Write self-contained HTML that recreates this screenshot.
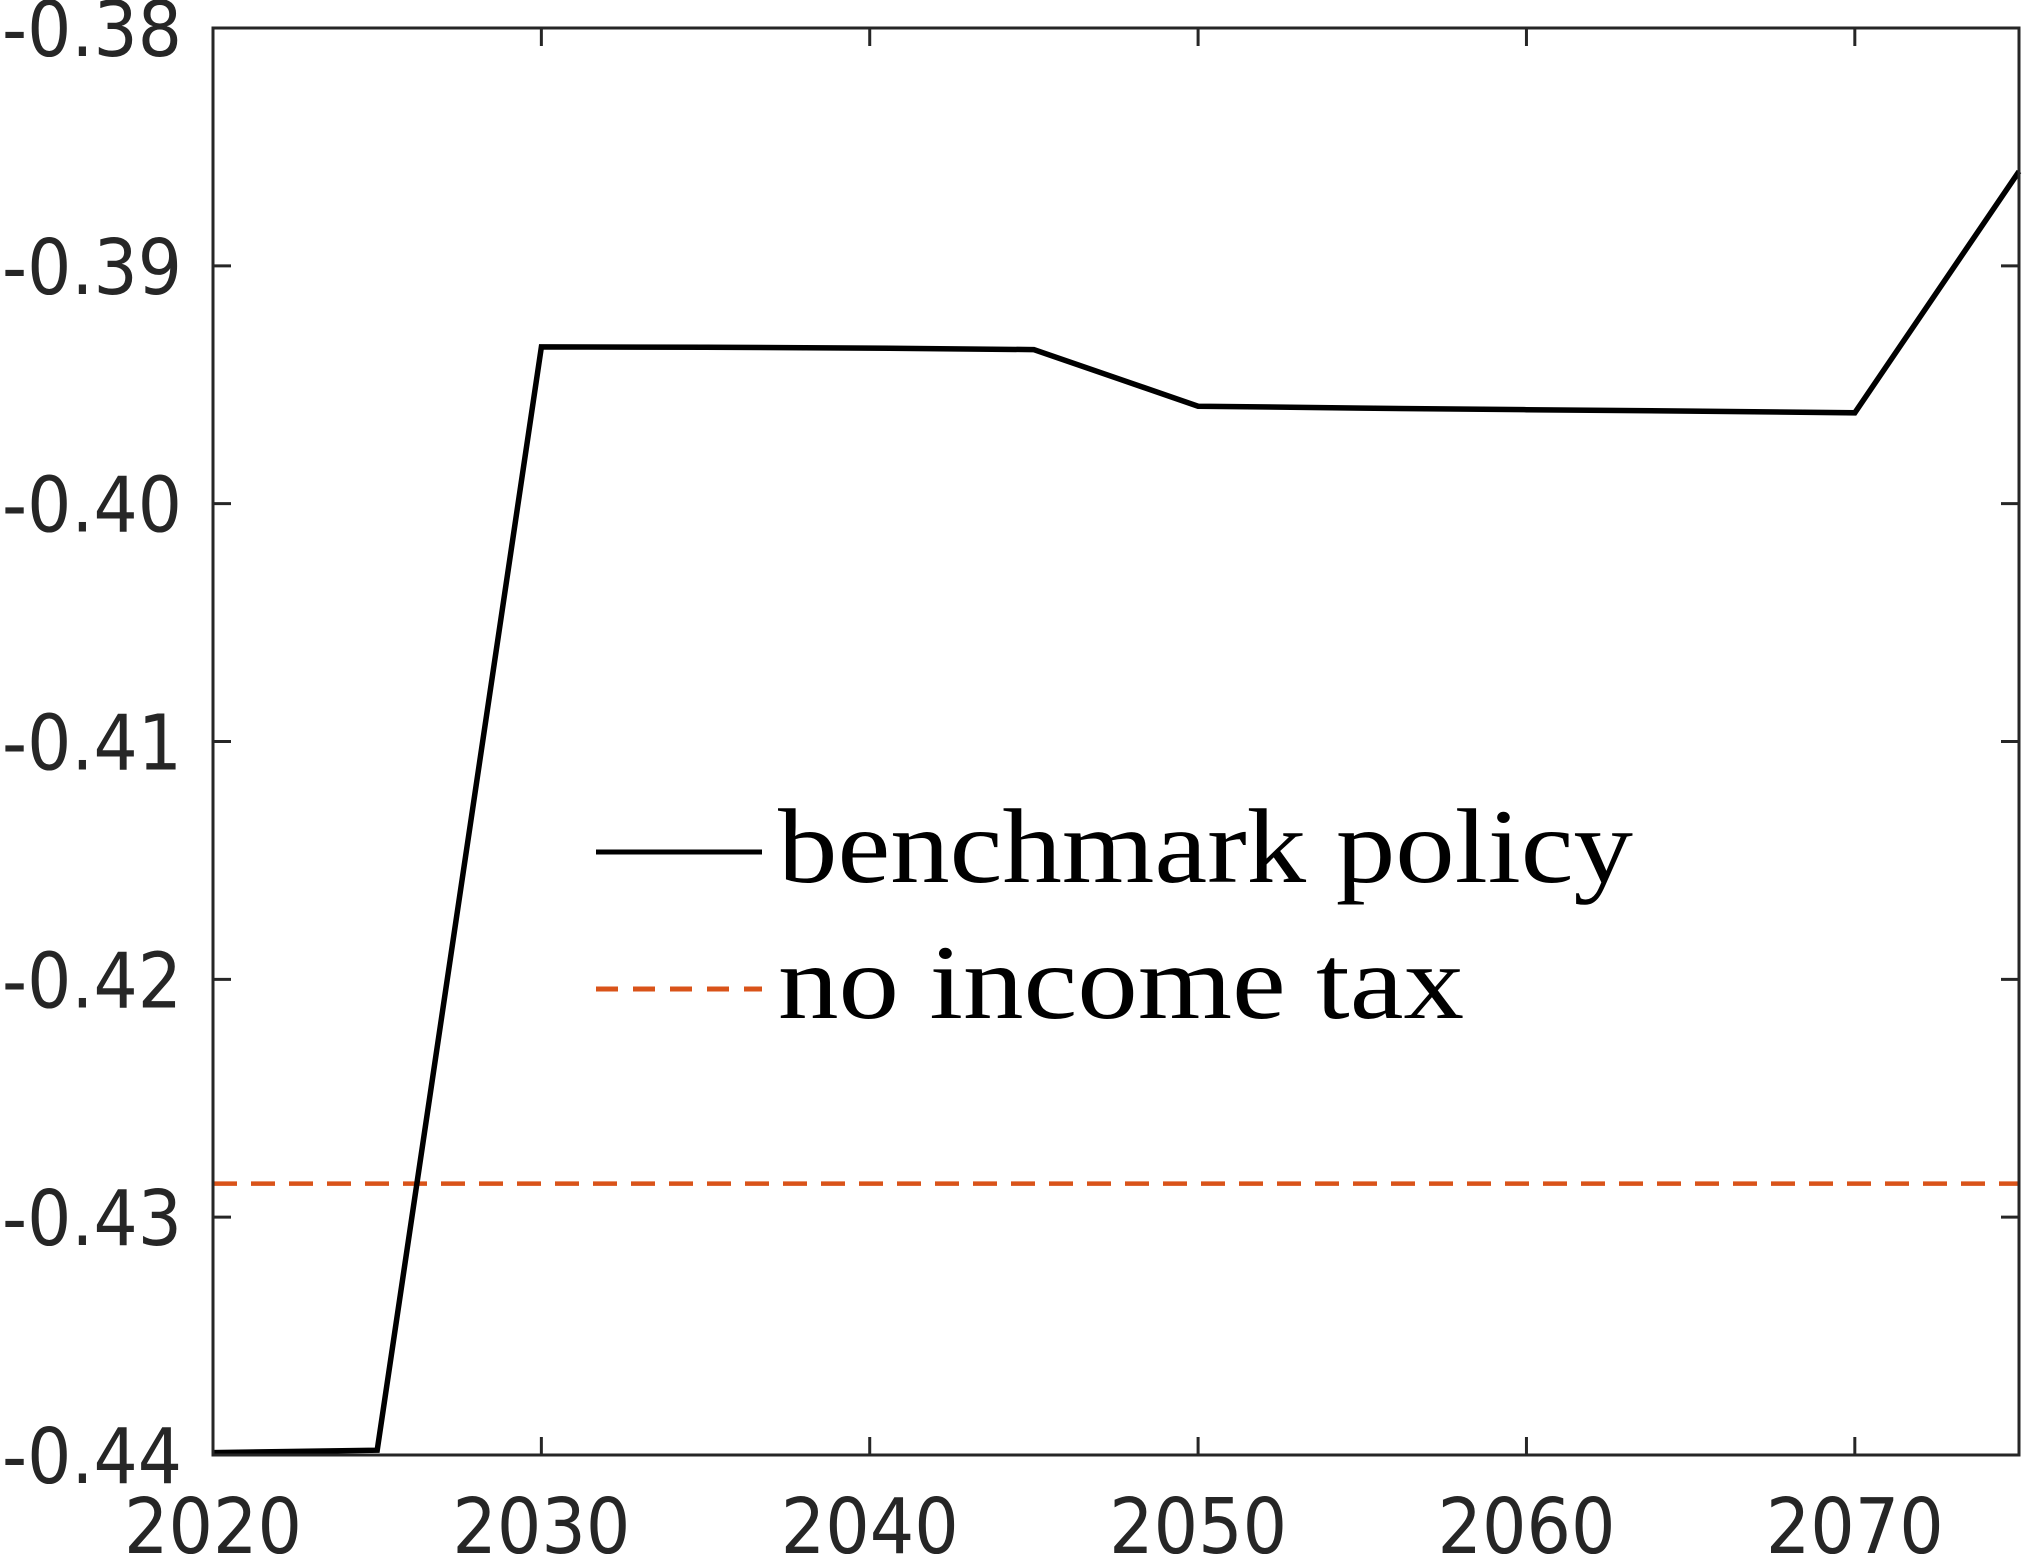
<!DOCTYPE html>
<html><head><meta charset="utf-8"><style>
html,body{margin:0;padding:0;background:#fff;}
svg{display:block;}
</style></head><body>
<svg id="chart" width="2024" height="1554" viewBox="0 0 2024 1554" xmlns="http://www.w3.org/2000/svg">
<g id="plot"></g>
</svg>
<script>
const years = [2020, 2025, 2030, 2035, 2040, 2045, 2050, 2055, 2060, 2065, 2070, 2075];
const benchmark = [-0.4399, -0.4398, -0.39341, -0.39342, -0.39346, -0.39352, -0.3959, -0.39598, -0.39605, -0.39611, -0.39618, -0.38603];
const noIncomeTax = -0.42859;
const xTicks = [2020, 2030, 2040, 2050, 2060, 2070];
const yTicks = [-0.38, -0.39, -0.40, -0.41, -0.42, -0.43, -0.44];
const yTickLabels = ["-0.38", "-0.39", "-0.40", "-0.41", "-0.42", "-0.43", "-0.44"];

const L = 213, R = 2019, T = 28, B = 1455;
const xMin = 2020, xMax = 2075, yMin = -0.44, yMax = -0.38;
const xs = v => L + (v - xMin) / (xMax - xMin) * (R - L);
const ys = v => B - (v - yMin) / (yMax - yMin) * (B - T);
const NS = "http://www.w3.org/2000/svg";
const g = document.getElementById("plot");
function mk(tag, attrs) { const e = document.createElementNS(NS, tag); for (const k in attrs) e.setAttribute(k, attrs[k]); g.appendChild(e); return e; }

const dl = mk("line", {x1: xs(xMin), x2: xs(xMax), y1: ys(noIncomeTax), y2: ys(noIncomeTax), stroke: "#d95319", "stroke-width": 4.5, "stroke-dasharray": "24 14"});



const pts = years.map((y, i) => xs(y).toFixed(1) + "," + ys(benchmark[i]).toFixed(1)).join(" ");
const bl = mk("polyline", {points: pts, fill: "none", stroke: "#000", "stroke-width": 5.5, "stroke-linejoin": "miter"});



const box = mk("rect", {x: L, y: T, width: R - L, height: B - T, fill: "none", stroke: "#262626", "stroke-width": 3});



yTicks.forEach((v, i) => {
  const y = ys(v);
  const t1 = mk("line", {x1: L, x2: L + 18, y1: y, y2: y, stroke: "#262626", "stroke-width": 3});
  
  
  const t2 = mk("line", {x1: R - 18, x2: R, y1: y, y2: y, stroke: "#262626", "stroke-width": 3});
  
  
  const tx = mk("text", {x: 182, y: y + 28, "text-anchor": "end", "font-family": "DejaVu Sans, Liberation Sans, sans-serif", "font-size": 77, fill: "#262626", textLength: 180, lengthAdjust: "spacingAndGlyphs"});
  tx.textContent = yTickLabels[i];
  
  
});
xTicks.forEach(v => {
  const x = xs(v);
  const t1 = mk("line", {x1: x, x2: x, y1: B, y2: B - 18, stroke: "#262626", "stroke-width": 3});
  
  
  const t2 = mk("line", {x1: x, x2: x, y1: T, y2: T + 18, stroke: "#262626", "stroke-width": 3});
  
  
  const tx = mk("text", {x: x, y: 1553, "text-anchor": "middle", "font-family": "DejaVu Sans, Liberation Sans, sans-serif", "font-size": 77, fill: "#262626", textLength: 178, lengthAdjust: "spacingAndGlyphs"});
  tx.textContent = String(v);
  
  
});

const l1 = mk("line", {x1: 596, x2: 762, y1: 852, y2: 852, stroke: "#000", "stroke-width": 5});


const l2 = mk("line", {x1: 596, x2: 762, y1: 989, y2: 989, stroke: "#d95319", "stroke-width": 5, "stroke-dasharray": "22 15"});


const lt1 = mk("text", {x: 778, y: 882, "font-family": "Liberation Serif, serif", "font-size": 106, fill: "#000", textLength: 855, lengthAdjust: "spacingAndGlyphs"});
lt1.textContent = "benchmark policy";


const lt2 = mk("text", {x: 778, y: 1018, "font-family": "Liberation Serif, serif", "font-size": 106, fill: "#000", textLength: 686, lengthAdjust: "spacingAndGlyphs"});
lt2.textContent = "no income tax";


</script>
</body></html>
